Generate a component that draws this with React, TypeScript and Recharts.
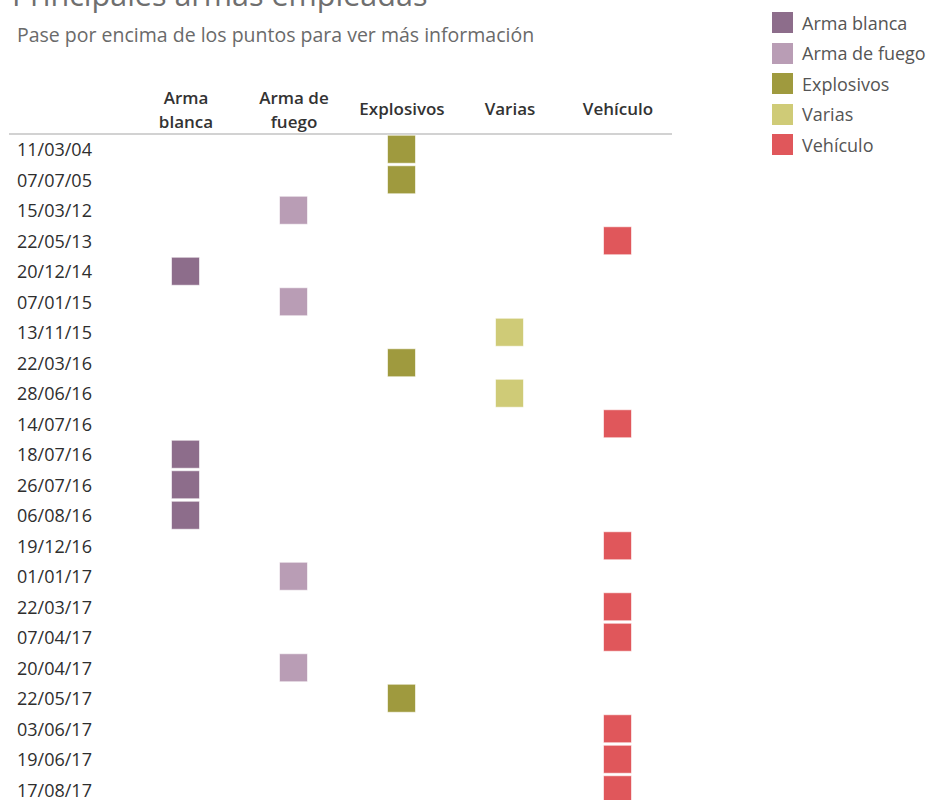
import React from 'react'
import { ScatterChart, Scatter, XAxis, YAxis } from 'recharts'

const WEAPONS = ['Arma blanca', 'Arma de fuego', 'Explosivos', 'Varias', 'Vehículo']
const WEAPON_COLORS = ['#8d6d8b', '#b99db5', '#9f9a3e', '#cfcb77', '#e0575b']

const DATES = [
  '11/03/04', '07/07/05', '15/03/12', '22/05/13', '20/12/14', '07/01/15', '13/11/15', '22/03/16',
  '28/06/16', '14/07/16', '18/07/16', '26/07/16', '06/08/16', '19/12/16', '01/01/17', '22/03/17',
  '07/04/17', '20/04/17', '22/05/17', '03/06/17', '19/06/17', '17/08/17',
]
const DATE_WEAPON = [
  'Explosivos', 'Explosivos', 'Arma de fuego', 'Vehículo', 'Arma blanca', 'Arma de fuego', 'Varias', 'Explosivos',
  'Varias', 'Vehículo', 'Arma blanca', 'Arma blanca', 'Arma blanca', 'Vehículo', 'Arma de fuego', 'Vehículo',
  'Vehículo', 'Arma de fuego', 'Explosivos', 'Vehículo', 'Vehículo', 'Vehículo',
]

const HEADER_LINES: Record<string, string[]> = {
  'Arma blanca': ['Arma', 'blanca'],
  'Arma de fuego': ['Arma de', 'fuego'],
}

const FONT = '"Open Sans", "Noto Sans", sans-serif'

function HeaderTick(props: any) {
  const { x, y, payload } = props
  const label = WEAPONS[payload.value]
  const lines = HEADER_LINES[label] || [label]
  const offsets = lines.length === 2 ? [-37, -13] : [-26]
  return (
    <g>
      {lines.map((l, i) => (
        <text key={i} x={x} y={y + offsets[i]} textAnchor="middle" dominantBaseline="central"
          fontSize={17} fontWeight={600} fill="#333" fontFamily={FONT}>
          {l}
        </text>
      ))}
    </g>
  )
}

function DateTick(props: any) {
  const { y, payload } = props
  return (
    <text x={17} y={y} textAnchor="start" dominantBaseline="central" fontSize={18} fill="#2e2e2e" fontFamily={FONT}>
      {DATES[payload.value]}
    </text>
  )
}

function Square(props: any) {
  const { cx, cy, fill } = props
  const s = 28
  return <rect x={cx - s / 2 - 0.5} y={cy - s / 2} width={s} height={s} fill={fill} stroke="#ffffff" strokeOpacity={0.6} strokeWidth={1} />
}

export default function App() {
  const series = WEAPONS.map((w, i) => ({
    name: w,
    color: WEAPON_COLORS[i],
    data: DATES.map((d, j) => ({ date: j, weapon: i, label: d })).filter((p) => DATE_WEAPON[p.date] === w),
  }))

  return (
    <div style={{ position: 'absolute', left: 0, top: 0, width: 929, height: 820, background: '#fff', fontFamily: FONT, overflow: 'hidden' }}>
      <div style={{ position: 'absolute', left: 12, top: -27, fontSize: 30.5, color: '#6f6f6f', whiteSpace: 'nowrap' }}>
        Principales armas empleadas
      </div>
      <div style={{ position: 'absolute', left: 17, top: 21, fontSize: 19.5, color: '#6a6a6a', whiteSpace: 'nowrap' }}>
        Pase por encima de los puntos para ver más información
      </div>

      <div style={{ position: 'absolute', left: 772, top: 12 }}>
        {WEAPONS.map((w, i) => (
          <div key={w} style={{ display: 'flex', alignItems: 'center', height: 21, marginBottom: 9.5 }}>
            <div style={{ width: 21, height: 21, background: WEAPON_COLORS[i] }} />
            <span style={{ marginLeft: 9, fontSize: 18, color: '#555' }}>{w}</span>
          </div>
        ))}
      </div>

      <div style={{ position: 'absolute', left: 0, top: 0 }}>
        <ScatterChart width={680} height={820} margin={{ top: 70, right: 8, bottom: 15, left: 8 }}>
          <XAxis
            type="number"
            dataKey="weapon"
            orientation="top"
            domain={[-0.5, WEAPONS.length - 0.5]}
            ticks={WEAPONS.map((_, i) => i)}
            height={64}
            padding={{ left: 123, right: 0 }}
            tickLine={false}
            tickSize={0}
            tickMargin={0}
            axisLine={{ stroke: '#d2d2d2', strokeWidth: 2 }}
            tick={<HeaderTick />}
            interval={0}
          />
          <YAxis
            type="number"
            dataKey="date"
            domain={[-0.5, DATES.length - 0.5]}
            ticks={DATES.map((_, i) => i)}
            width={1}
            axisLine={false}
            tickLine={false}
            tick={<DateTick />}
            interval={0}
            reversed
          />
          {series.map((s) => (
            <Scatter
              key={s.name}
              name={s.name}
              data={s.data}
              fill={s.color}
              shape={<Square />}
              isAnimationActive={false}
            />
          ))}
        </ScatterChart>
      </div>
    </div>
  )
}
